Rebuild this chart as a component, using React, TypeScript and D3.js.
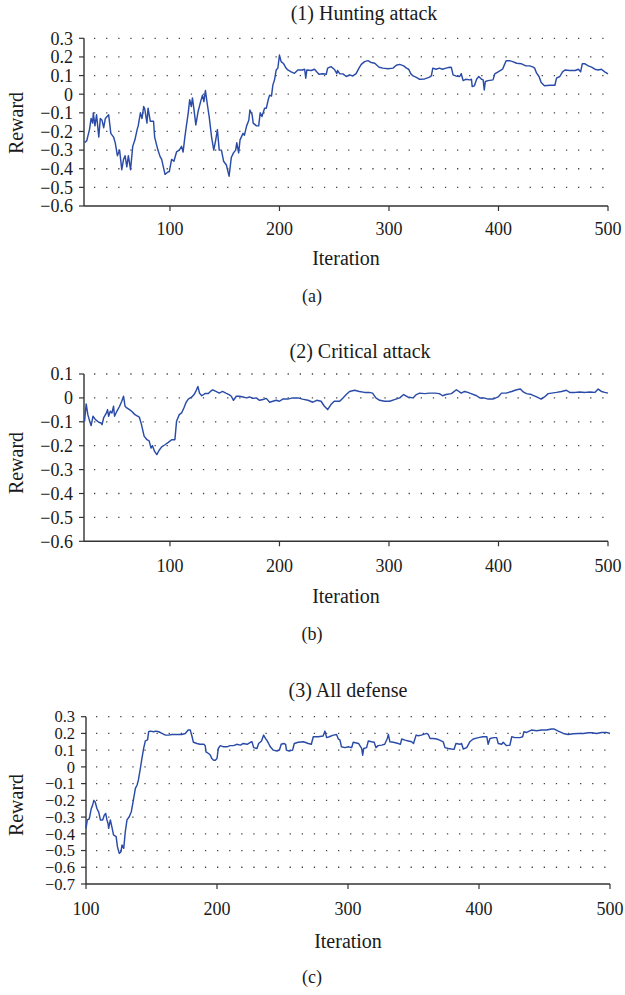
import React from "react";
import * as d3 from "d3";

// ---------- data ----------
const huntIter = [22,24,26.5,28,29.4,30,31.5,33,35,36.4,38,39.5,41,44,46,48.5,50,52,54,56,57.6,59,60.6,62,64,66,68,70,71,73,74.5,76,77,79,80,82,85,86,89,91,92.4,95.5,97.6,99.4,101.5,103.6,106,108.5,110.6,112,113.6,115,116.7,118,119.5,120.5,122,123.6,125.8,128,129.7,131,132.4,134,135.8,138,140,141.8,143.3,145,147,149,151.5,154,156,158,160,161,162.7,164,166.7,168,170,172,173,175,176,179,181,182.4,184,186.4,188,189.7,191,192.7,194,195.5,197,198.5,200,201.5,203.6,206,207.6,210.7,213.7,216.8,221,223,224,225,229,232,234,236,239.6,242.7,244,247,250,252.4,253,255,258,261,264,267,270,272.6,274.7,277.7,280.8,283.8,287,291,294.5,299,303.7,306.7,309.8,313.4,316,318,320,322,325,328,332.6,336.6,338.7,340,343,346,349,352,355.5,357,358.5,361,364.6,366,367.7,370,373.8,375.3,376,378,380,382,384.5,386,387,388,390.5,395,396.6,399.7,403.7,405,407,410,413,416.5,421,425,428.6,431.7,433,434.8,437,439,442,447,451.5,453,456,458.5,460.7,465,470,473,475,476.5,479,482,485,488,491,494,497,500];
const huntReward = [-0.26,-0.25,-0.19,-0.13,-0.155,-0.10,-0.17,-0.11,-0.23,-0.13,-0.14,-0.18,-0.13,-0.11,-0.21,-0.23,-0.26,-0.33,-0.30,-0.405,-0.35,-0.33,-0.39,-0.33,-0.405,-0.28,-0.245,-0.19,-0.17,-0.10,-0.13,-0.066,-0.08,-0.155,-0.075,-0.145,-0.145,-0.23,-0.30,-0.335,-0.35,-0.43,-0.42,-0.415,-0.35,-0.36,-0.31,-0.30,-0.28,-0.31,-0.23,-0.17,-0.10,-0.03,-0.066,-0.02,-0.085,-0.165,-0.09,-0.04,-0.005,-0.04,0.02,-0.05,-0.12,-0.23,-0.30,-0.245,-0.19,-0.30,-0.30,-0.36,-0.38,-0.44,-0.34,-0.315,-0.30,-0.26,-0.315,-0.245,-0.21,-0.22,-0.17,-0.14,-0.085,-0.11,-0.155,-0.17,-0.17,-0.10,-0.12,-0.075,-0.075,-0.03,-0.005,-0.01,0.05,0.077,0.13,0.14,0.21,0.175,0.165,0.14,0.13,0.12,0.112,0.13,0.13,0.134,0.086,0.13,0.127,0.134,0.12,0.107,0.11,0.107,0.14,0.148,0.134,0.11,0.127,0.11,0.109,0.095,0.104,0.098,0.11,0.14,0.16,0.175,0.18,0.17,0.166,0.145,0.14,0.137,0.14,0.155,0.16,0.152,0.14,0.134,0.109,0.098,0.09,0.08,0.082,0.09,0.098,0.14,0.134,0.14,0.134,0.14,0.145,0.143,0.104,0.098,0.095,0.11,0.073,0.08,0.077,0.08,0.041,0.045,0.08,0.095,0.08,0.077,0.023,0.068,0.073,0.077,0.109,0.12,0.134,0.152,0.18,0.18,0.175,0.166,0.163,0.152,0.152,0.145,0.14,0.113,0.095,0.063,0.045,0.048,0.048,0.086,0.095,0.12,0.13,0.127,0.127,0.134,0.12,0.163,0.163,0.152,0.145,0.134,0.13,0.134,0.12,0.109];

const critIter = [22,22.7,23.5,25,26.7,28,29.7,32,35,37,38,39.4,42,43,44,45.5,47,48.5,49.4,51.5,54,56,57.6,59,60.6,63,65,68,72,74,76.4,79,81,82.7,84,86,88,90,92.4,95.5,98.5,101.5,104.5,106,108.5,110.6,112.7,114.5,116.7,120,122,123.6,125.5,127,129,132,135,137,139,142,145,148,151,154,156,158,160.6,163.6,166.7,170,172.7,175.8,178.8,181.8,185,188,191,194,197,200,203,207.6,212,216.8,221,226,230.5,234,238,241,244,247,250,255,258,261,264,268.6,273,277.7,282,285,288,291.5,296,300.6,305,309.8,313.4,317,322,325,328,332.6,337,341.8,346,349,352,357,361.6,366,369,372,375,380,383,386.6,390.5,395,399.7,402.7,407,412,416.5,420,422.6,425.6,430,434.8,439,442,445.4,448.5,453,457.6,462,465,470,474,479,483.5,488,491,494,497,500];
const critReward = [-0.098,-0.063,-0.025,-0.07,-0.098,-0.116,-0.077,-0.091,-0.102,-0.105,-0.112,-0.084,-0.063,-0.049,-0.077,-0.056,-0.063,-0.035,-0.077,-0.056,-0.035,-0.014,0.007,-0.035,-0.042,-0.049,-0.056,-0.07,-0.08,-0.112,-0.16,-0.175,-0.18,-0.21,-0.2,-0.224,-0.237,-0.22,-0.205,-0.196,-0.186,-0.175,-0.175,-0.098,-0.07,-0.063,-0.042,-0.021,-0.005,0.004,0.014,0.027,0.048,0.02,0.009,0.018,0.018,0.027,0.034,0.027,0.02,0.027,0.02,0.014,0.007,-0.01,0.007,0.007,0.004,0,0.004,-0.002,0,-0.01,-0.007,-0.002,-0.018,-0.014,-0.01,-0.014,-0.005,-0.005,0,0,-0.005,-0.01,-0.018,-0.01,-0.014,-0.035,-0.049,-0.028,-0.014,-0.014,0,0.014,0.027,0.032,0.027,0.023,0.023,0.02,0,-0.01,-0.014,-0.014,-0.007,0,0.014,0.004,0,0.014,0.02,0.018,0.02,0.02,0.018,0.009,0.014,0.018,0.034,0.02,0.027,0.023,0.018,0.009,0,0,-0.005,-0.005,0.004,0.02,0.02,0.027,0.034,0.037,0.025,0.018,0.014,0.004,-0.005,0.004,0.018,0.02,0.023,0.027,0.032,0.023,0.023,0.025,0.023,0.025,0.023,0.037,0.027,0.023,0.02];

const defIter = [100,101,102.5,104,105,106,107,108.4,109.7,111,112.7,114,115,116,116.8,117.3,118.6,120,121,123,124,125.4,126.7,127.5,128.8,130,131.3,133,134.6,136.4,137.7,139,140,141.5,142.7,144,145.3,147,147.8,149,151.7,153.4,155.5,158,160.6,163,165.6,169.5,173,175.8,178,179.6,181,182,184.7,187,190,191,191.6,193.6,195,196,197.5,198.7,200,201,202.5,205,207.6,210,212.7,215,218,220,223,225.5,226.7,228,230.5,231.8,234,235.6,237,238,239.4,240.7,243,245.8,247.6,249,251,252.4,253,255,257.7,259,262,266,269.7,272,273.5,277.3,281,282.4,283.7,285.7,288.8,291.3,292.6,293.9,295,297.7,300.2,302.8,304,308,310.4,311.2,312,314.2,315.5,318,320,321.3,323,325.7,328,330,330.8,332,334.6,338.4,340,341,343.5,346,348.6,350,352,353.7,356,360,361.3,362.6,365,367.7,370,372.7,374,376.6,379,381,382.4,385.5,386.7,388,390.6,393,395.6,399.5,403,406,407,408.4,411.4,413.5,414.7,417.3,418.5,421,423.6,425,427.5,431.3,433.3,434.3,436.4,440,444,447.8,451.6,455.4,457.5,460.5,464.4,468,472,475.8,479.6,483.5,486,489.8,493.6,497.4,500];
const defReward = [-0.367,-0.317,-0.31,-0.25,-0.23,-0.2,-0.21,-0.25,-0.27,-0.317,-0.317,-0.288,-0.278,-0.317,-0.337,-0.367,-0.317,-0.367,-0.407,-0.417,-0.477,-0.517,-0.507,-0.467,-0.487,-0.387,-0.317,-0.298,-0.268,-0.188,-0.128,-0.108,-0.078,-0.009,0.051,0.111,0.155,0.161,0.21,0.214,0.21,0.214,0.21,0.2,0.19,0.19,0.194,0.194,0.194,0.2,0.22,0.22,0.18,0.147,0.14,0.135,0.135,0.127,0.09,0.08,0.07,0.05,0.04,0.04,0.05,0.11,0.127,0.12,0.12,0.127,0.127,0.135,0.13,0.14,0.135,0.147,0.15,0.115,0.11,0.14,0.155,0.19,0.17,0.16,0.14,0.12,0.1,0.095,0.1,0.135,0.14,0.135,0.1,0.095,0.1,0.14,0.147,0.15,0.14,0.135,0.18,0.18,0.185,0.214,0.175,0.18,0.19,0.194,0.167,0.16,0.12,0.115,0.12,0.115,0.147,0.14,0.11,0.07,0.11,0.115,0.155,0.15,0.147,0.115,0.127,0.13,0.135,0.17,0.194,0.15,0.147,0.14,0.135,0.167,0.16,0.155,0.15,0.14,0.19,0.186,0.19,0.2,0.194,0.17,0.17,0.167,0.16,0.15,0.115,0.11,0.107,0.105,0.14,0.135,0.14,0.107,0.115,0.15,0.167,0.175,0.18,0.18,0.135,0.17,0.175,0.175,0.14,0.135,0.147,0.127,0.13,0.18,0.175,0.175,0.18,0.21,0.206,0.22,0.216,0.22,0.22,0.226,0.226,0.214,0.2,0.194,0.198,0.2,0.2,0.204,0.204,0.2,0.206,0.206,0.2];

const titles = ["(1) Hunting attack", "(2) Critical attack", "(3) All defense"];
const captions = ["(a)", "(b)", "(c)"];
const xTicksAB = [100, 200, 300, 400, 500];
const xTicksC = [100, 200, 300, 400, 500];
const yTicksA = [0.3, 0.2, 0.1, 0, -0.1, -0.2, -0.3, -0.4, -0.5, -0.6];
const yTicksB = [0.1, 0, -0.1, -0.2, -0.3, -0.4, -0.5, -0.6];
const yTicksC = [0.3, 0.2, 0.1, 0, -0.1, -0.2, -0.3, -0.4, -0.5, -0.6, -0.7];

// ---------- layout ----------
const FONT = "'Liberation Serif', 'Times New Roman', serif";
const LINE = "#2a4ca8";
const AXIS = "#333";

type Panel = {
  xs: number[]; ys: number[];
  xDomain: [number, number]; xRange: [number, number];
  yDomain: [number, number]; yRange: [number, number];
  xTicks: number[]; yTicks: number[];
  title: string; titleX: number; titleY: number;
  caption: string; captionY: number;
  rewardY: number;
  tickLabelDy: number; iterDy: number; yTickSize: number;
};

const panels: Panel[] = [
  { xs: huntIter, ys: huntReward, xDomain: [21.5, 500], xRange: [84, 608], yDomain: [-0.6, 0.3], yRange: [206, 38.3],
    xTicks: xTicksAB, yTicks: yTicksA, title: titles[0], titleX: 364, titleY: 20, caption: captions[0], captionY: 302,
    rewardY: 123, tickLabelDy: 29, iterDy: 59, yTickSize: 18 },
  { xs: critIter, ys: critReward, xDomain: [21.5, 500], xRange: [84, 608], yDomain: [-0.6, 0.1], yRange: [541.3, 374],
    xTicks: xTicksAB, yTicks: yTicksB, title: titles[1], titleX: 360, titleY: 358, caption: captions[1], captionY: 640,
    rewardY: 463, tickLabelDy: 31, iterDy: 62, yTickSize: 18 },
  { xs: defIter, ys: defReward, xDomain: [100, 500], xRange: [86, 610], yDomain: [-0.7, 0.3], yRange: [884, 716.7],
    xTicks: xTicksC, yTicks: yTicksC, title: titles[2], titleX: 348, titleY: 697, caption: captions[2], captionY: 983,
    rewardY: 805, tickLabelDy: 31, iterDy: 64, yTickSize: 16.5 },
];

const fmt = (v: number) => (Math.abs(v) < 1e-9 ? "0" : (v < 0 ? "\u2212" : "") + Math.abs(v).toFixed(1));

function ChartPanel({ p }: { p: Panel }) {
  const x = d3.scaleLinear().domain(p.xDomain).range(p.xRange);
  const y = d3.scaleLinear().domain(p.yDomain).range(p.yRange);
  const pts: [number, number][] = p.xs.map((v, i) => [v, p.ys[i]]);
  const line = d3.line<[number, number]>().x((d) => x(d[0])).y((d) => y(d[1]));
  const [x0, x1] = p.xRange;
  const yBottom = y(p.yDomain[0]);
  const yTop = y(p.yDomain[1]);
  const xMid = (x0 + x1) / 2;
  return (
    <g>
      {p.yTicks.filter((t) => t !== p.yDomain[0]).map((t) => (
        <line key={"g" + t} x1={x0} x2={x1} y1={y(t)} y2={y(t)} stroke="#444" strokeWidth={1.3}
          strokeDasharray="1.3 10.8" strokeDashoffset={-10} />
      ))}
      <line x1={x0} x2={x0} y1={yTop} y2={yBottom} stroke={AXIS} strokeWidth={1.4} />
      <line x1={x0} x2={x1} y1={yBottom} y2={yBottom} stroke={AXIS} strokeWidth={1.4} />
      {p.yTicks.map((t) => (
        <g key={"y" + t}>
          <line x1={x0 - 5} x2={x0} y1={y(t)} y2={y(t)} stroke={AXIS} strokeWidth={1.2} />
          <text x={x0 - 11} y={y(t)} dy="0.35em" textAnchor="end" fontSize={p.yTickSize} fontFamily={FONT} fill="#1a1a1a">{fmt(t)}</text>
        </g>
      ))}
      {p.xTicks.map((t) => (
        <g key={"x" + t}>
          <line x1={x(t)} x2={x(t)} y1={yBottom} y2={yBottom + 5} stroke={AXIS} strokeWidth={1.2} />
          <text x={x(t)} y={yBottom + p.tickLabelDy} textAnchor="middle" fontSize={18} fontFamily={FONT} fill="#1a1a1a">{t}</text>
        </g>
      ))}
      <path d={line(pts) || ""} fill="none" stroke={LINE} strokeWidth={1.45} strokeLinejoin="round" />
      <text x={p.titleX} y={p.titleY} textAnchor="middle" fontSize={20} fontFamily={FONT} fill="#1a1a1a">{p.title}</text>
      <text transform={`translate(23,${p.rewardY}) rotate(-90)`} textAnchor="middle" fontSize={20} fontFamily={FONT} fill="#1a1a1a">Reward</text>
      <text x={xMid} y={yBottom + p.iterDy} textAnchor="middle" fontSize={20} fontFamily={FONT} fill="#1a1a1a">Iteration</text>
      <text x={312} y={p.captionY} textAnchor="middle" fontSize={18} fontFamily={FONT} fill="#1a1a1a">{p.caption}</text>
    </g>
  );
}

export default function App() {
  return (
    <svg width={625} height={995} viewBox="0 0 625 995" style={{ position: "absolute", left: 0, top: 0, background: "#fff" }}>
      <rect width={625} height={995} fill="#fff" />
      {panels.map((p, i) => <ChartPanel key={i} p={p} />)}
    </svg>
  );
}
